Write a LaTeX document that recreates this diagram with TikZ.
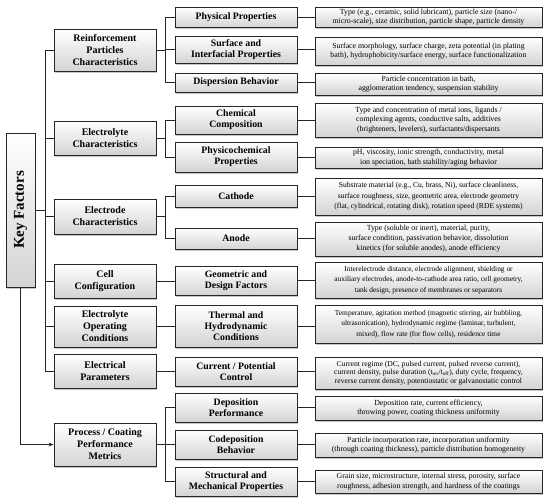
\documentclass[tikz,border=0pt]{standalone}
\usepackage{fontspec}
\setmainfont{Liberation Serif}
\usetikzlibrary{shadows,arrows.meta}
\begin{document}
\begin{tikzpicture}[x=1pt,y=-1pt,
 box/.style={draw=black!85,line width=0.8pt,top color=white,bottom color=black!17,
   drop shadow={shadow xshift=1.2pt,shadow yshift=-1.5pt,opacity=0.45},align=center,inner sep=1pt},
 lone/.style={box,minimum width=102pt,font=\fontsize{10}{12}\selectfont\bfseries},
 ltwo/.style={box,minimum width=122pt,font=\fontsize{9.8}{11}\selectfont\bfseries},
 lthree/.style={box,minimum width=227pt,inner xsep=0pt,font=\fontsize{7.8}{9.5}\selectfont},
 conn/.style={line width=0.7pt,draw=black!85}]
\useasboundingbox (0,0) rectangle (550,504);

% root
\node[box,minimum width=29pt,minimum height=154pt,inner sep=0pt] (kf) at (20.5,210)
  {\rotatebox{90}{\fontsize{15}{15}\selectfont\bfseries Key Factors}};

% level 1
\node[lone,minimum height=42pt] (r1) at (105,50) {Reinforcement\\Particles\\Characteristics};
\node[lone,minimum height=34pt] (r2) at (105,138) {Electrolyte\\Characteristics};
\node[lone,minimum height=35pt] (r3) at (105,216.5) {Electrode\\Characteristics};
\node[lone,minimum height=34pt] (r4) at (105,281) {Cell\\Configuration};
\node[lone,minimum height=41pt] (r5) at (105,326.5) {Electrolyte\\Operating\\Conditions};
\node[lone,minimum height=34pt] (r6) at (105,371) {Electrical\\Parameters};
\node[lone,minimum height=43pt] (r7) at (105,444.5) {Process / Coating\\Performance\\Metrics};

% level 2
\node[ltwo,minimum height=20pt] (a1) at (236,17) {Physical Properties};
\node[ltwo,minimum height=27pt] (a2) at (236,49.5) {Surface and\\Interfacial Properties};
\node[ltwo,minimum height=19pt] (a3) at (236,82.5) {Dispersion Behavior};
\node[ltwo,minimum height=28pt] (b1) at (236,120) {Chemical\\Composition};
\node[ltwo,minimum height=30pt] (b2) at (236,157) {Physicochemical\\Properties};
\node[ltwo,minimum height=22pt] (c1) at (236,196) {Cathode};
\node[ltwo,minimum height=21pt] (c2) at (236,238.5) {Anode};
\node[ltwo,minimum height=29pt] (d1) at (236,280.5) {Geometric and\\Design Factors};
\node[ltwo,minimum height=42pt] (e1) at (236,326) {Thermal and\\Hydrodynamic\\Conditions};
\node[ltwo,minimum height=29pt] (f1) at (236,371.5) {Current / Potential\\Control};
\node[ltwo,minimum height=29pt] (g1) at (236,407.5) {Deposition\\Performance};
\node[ltwo,minimum height=29pt] (g2) at (236,444.5) {Codeposition\\Behavior};
\node[ltwo,minimum height=29pt] (g3) at (236,481.5) {Structural and\\Mechanical Properties};

% level 3
\node[lthree,minimum height=20pt] (ta1) at (428.5,17) {Type (e.g., ceramic, solid lubricant), particle size (nano-/\\micro-scale), size distribution, particle shape, particle density};
\node[lthree,minimum height=28pt] (ta2) at (428.5,51) {Surface morphology, surface charge, zeta potential (in plating\\bath), hydrophobicity/surface energy, surface functionalization};
\node[lthree,minimum height=22pt] (ta3) at (428.5,84) {Particle concentration in bath,\\agglomeration tendency, suspension stability};
\node[lthree,minimum height=34pt] (tb1) at (428.5,120) {Type and concentration of metal ions, ligands /\\complexing agents, conductive salts, additives\\(brighteners, levelers), surfactants/dispersants};
\node[lthree,minimum height=21pt] (tb2) at (428.5,157.5) {pH, viscosity, ionic strength, conductivity, metal\\ion speciation, bath stability/aging behavior};
\node[lthree,minimum height=37pt,font=\fontsize{7.6}{10.5}\selectfont] (tc1) at (428.5,196.5) {Substrate material (e.g., Cu, brass, Ni), surface cleanliness,\\surface roughness, size, geometric area, electrode geometry\\(flat, cylindrical, rotating disk), rotation speed (RDE systems)};
\node[lthree,minimum height=34pt,font=\fontsize{7.8}{10}\selectfont] (tc2) at (428.5,239) {Type (soluble or inert), material, purity,\\surface condition, passivation behavior, dissolution\\kinetics (for soluble anodes), anode efficiency};
\node[lthree,minimum height=36pt,font=\fontsize{7.4}{10.5}\selectfont] (td1) at (428.5,280) {Interelectrode distance, electrode alignment, shielding or\\auxiliary electrodes, anode-to-cathode area ratio, cell geometry,\\tank design, presence of membranes or separators};
\node[lthree,minimum height=38pt,font=\fontsize{7.4}{10.5}\selectfont] (te1) at (428.5,324) {Temperature, agitation method (magnetic stirring, air bubbling,\\ultrasonication), hydrodynamic regime (laminar, turbulent,\\mixed), flow rate (for flow cells), residence time};
\node[lthree,minimum height=32pt,font=\fontsize{7.6}{8.6}\selectfont] (tf1) at (428.5,373) {Current regime (DC, pulsed current, pulsed reverse current),\\current density, pulse duration (t\textsubscript{on}/t\textsubscript{off}), duty cycle, frequency,\\reverse current density, potentiostatic or galvanostatic control};
\node[lthree,minimum height=24pt] (tg1) at (428.5,408) {Deposition rate, current efficiency,\\throwing power, coating thickness uniformity};
\node[lthree,minimum height=24pt] (tg2) at (428.5,445) {Particle incorporation rate, incorporation uniformity\\(through coating thickness), particle distribution homogeneity};
\node[lthree,minimum height=23pt] (tg3) at (428.5,481.5) {Grain size, microstructure, internal stress, porosity, surface\\roughness, adhesion strength, and hardness of the coatings};

% connectors
\coordinate (tr) at (45,0);
\coordinate (bx) at (165,0);
\draw[conn] (kf.east) -- (kf.east -| tr);
\draw[conn] (r1.west -| tr) -- (r6.west -| tr);
\foreach \n in {r1,r2,r3,r4,r5,r6} \draw[conn] (\n.west) -- (\n.west -| tr);
\draw[conn,-{Stealth[length=5pt,width=4pt]}] (kf.south) |- (r7.west);

\draw[conn] (r1.east) -- (r1.east -| bx);
\draw[conn] (a1.west) -- (a1.west -| bx) -- (a3.west -| bx) -- (a3.west);
\draw[conn] (a2.west) -- (a2.west -| bx);
\draw[conn] (r2.east) -- (r2.east -| bx);
\draw[conn] (b1.west) -- (b1.west -| bx) -- (b2.west -| bx) -- (b2.west);
\draw[conn] (r3.east) -- (r3.east -| bx);
\draw[conn] (c1.west) -- (c1.west -| bx) -- (c2.west -| bx) -- (c2.west);
\draw[conn] (r4.east) -- (r4.east -| d1.west);
\draw[conn] (r5.east) -- (r5.east -| e1.west);
\draw[conn] (r6.east) -- (r6.east -| f1.west);
\draw[conn] (r7.east) -- (r7.east -| bx);
\draw[conn] (g1.west) -- (g1.west -| bx) -- (g3.west -| bx) -- (g3.west);
\draw[conn] (g2.west) -- (g2.west -| bx);

\foreach \s/\t in {a1/ta1,a2/ta2,a3/ta3,b1/tb1,b2/tb2,c1/tc1,c2/tc2,d1/td1,e1/te1,f1/tf1,g1/tg1,g2/tg2,g3/tg3}
  \draw[conn] (\s.east) -- (\s.east -| \t.west);
\end{tikzpicture}
\end{document}
